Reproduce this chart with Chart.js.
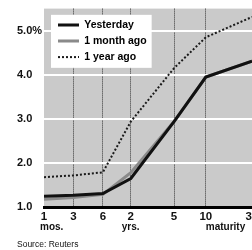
<!DOCTYPE html>
<html><head><meta charset="utf-8">
<script src="https://cdn.jsdelivr.net/npm/chart.js@4/dist/chart.umd.min.js"></script>
<style>html,body{margin:0;padding:0;background:#fff;}canvas{display:block;}</style>
</head><body>
<canvas id="c" width="252" height="250"></canvas>
<script>
// ---- data ----
const maturities = ['1', '3', '6', '2', '5', '10', '30'];
const maturityUnits = ['mos.', '', '', 'yrs.', '', 'maturity', ''];
const maturityAxisPos = [0, 1, 2, 2.95, 4.42, 5.5, 7.07];
const yesterday = [1.25, 1.27, 1.31, 1.65, 2.94, 3.95, 4.31];
const monthAgo  = [1.18, 1.22, 1.29, 1.78, 2.94, 3.95, 4.31];
const yearAgo   = [1.68, 1.72, 1.79, 2.94, 4.15, 4.85, 5.31];
const yTicks = [1, 2, 3, 4, 5];
const seriesNames = ['Yesterday', '1 month ago', '1 year ago'];

const FONT = "'Liberation Sans', Arial, sans-serif";
const toPts = arr => arr.map((v, i) => ({x: maturityAxisPos[i], y: v}));

const plotBg = {
  id: 'plotBg',
  beforeDraw(chart) {
    const {ctx, chartArea: a} = chart;
    ctx.save();
    ctx.fillStyle = '#fff';
    ctx.fillRect(0, 0, chart.width, chart.height);
    ctx.fillStyle = '#cacaca';
    ctx.fillRect(a.left, a.top, a.right - a.left, a.bottom - a.top);
    ctx.restore();
  }
};

const legendPanel = {
  id: 'legendPanel',
  afterLayout(chart) {
    const lg = chart.legend;
    if (!lg) return;
    const a = chart.chartArea;
    lg.left = a.left + 8.5;
    lg.top = a.top + 5.75;
    lg.bottom = a.bottom;
  },
  afterDatasetsDraw(chart) {
    const lg = chart.legend;
    const hb = lg.legendHitBoxes;
    let l = Infinity, t = Infinity, r = -Infinity, b = -Infinity;
    hb.forEach(h => {
      l = Math.min(l, h.left); t = Math.min(t, h.top);
      r = Math.max(r, h.left + h.width); b = Math.max(b, h.top + h.height);
    });
    const ctx = chart.ctx;
    ctx.save();
    ctx.fillStyle = '#fff';
    ctx.fillRect(l - 7, t - 5, r - l + 12, b - t + 10.5);
    ctx.restore();
    lg.draw();
  }
};

const unitLabels = {
  id: 'unitLabels',
  afterDraw(chart) {
    const xs = chart.scales.x;
    const ctx = chart.ctx;
    ctx.save();
    ctx.font = 'bold 10px ' + FONT;
    ctx.fillStyle = '#111';
    ctx.textAlign = 'left';
    ctx.textBaseline = 'middle';
    const shift = {'mos.': -4, 'yrs.': -9, 'maturity': 0};
    maturityUnits.forEach((u, i) => {
      if (!u) return;
      ctx.fillText(u, xs.getPixelForValue(maturityAxisPos[i]) + shift[u], xs.top + 20);
    });
    ctx.restore();
  }
};

new Chart(document.getElementById('c'), {
  type: 'line',
  data: {
    datasets: [
      {label: seriesNames[0], data: toPts(yesterday), borderColor: '#111', borderWidth: 3, pointRadius: 0, tension: 0},
      {label: seriesNames[1], data: toPts(monthAgo), borderColor: '#8a8a8a', borderWidth: 3, pointRadius: 0, tension: 0},
      {label: seriesNames[2], data: toPts(yearAgo), borderColor: '#1a1a1a', borderWidth: 2, borderDash: [2, 2], pointRadius: 0, tension: 0}
    ]
  },
  options: {
    responsive: false,
    animation: false,
    devicePixelRatio: 1,
    layout: {padding: {left: 17, top: 8, right: 0, bottom: 0}},
    scales: {
      x: {
        type: 'linear', min: 0, max: maturityAxisPos[maturityAxisPos.length - 1],
        afterBuildTicks(s) { s.ticks = maturityAxisPos.map(v => ({value: v})); },
        afterFit(s) { s.paddingLeft = 0; s.paddingRight = 0; s.height = 32; },
        ticks: {
          autoSkip: false, maxRotation: 0, padding: 3, color: '#111',
          font: {family: FONT, size: 11.5, weight: 'bold'},
          callback: (v, i) => maturities[i]
        },
        grid: {
          drawTicks: false, lineWidth: 1,
          color: c => (c.index === 0 || c.index === maturities.length - 1) ? 'rgba(0,0,0,0)' : '#333'
        },
        border: {display: true, color: '#000', width: 3, dash: [1, 1]}
      },
      y: {
        type: 'linear', min: 1, max: 5.5,
        afterBuildTicks(s) { s.ticks = yTicks.map(v => ({value: v})); },
        afterFit(s) { s.width = 27; },
        ticks: {
          crossAlign: 'far', color: '#111', padding: 2,
          font: {family: FONT, size: 11, weight: 'bold'},
          callback: v => v === 5 ? '5.0%' : v.toFixed(1)
        },
        grid: {drawTicks: false, color: '#fff', lineWidth: 2},
        border: {display: false}
      }
    },
    plugins: {
      legend: {
        position: 'chartArea', align: 'start',
        labels: {
          font: {family: FONT, size: 10.5, weight: 'bold'}, color: '#000',
          padding: 5.5, usePointStyle: true, pointStyleWidth: 21, boxHeight: 12,
          generateLabels(chart) {
            return chart.data.datasets.map((ds, i) => ({
              text: ds.label, strokeStyle: ds.borderColor, fillStyle: ds.borderColor,
              lineWidth: ds.borderWidth, lineDash: ds.borderDash || [], pointStyle: 'line',
              datasetIndex: i, hidden: false, fontColor: '#000'
            }));
          }
        }
      },
      title: {
        display: true, text: 'Source: Reuters', position: 'bottom', align: 'start',
        color: '#111', font: {family: FONT, size: 8.5, weight: 'normal', lineHeight: 1.2},
        padding: {top: 0, bottom: 0.6}
      },
      tooltip: {enabled: false}
    }
  },
  plugins: [plotBg, legendPanel, unitLabels]
});
</script>
</body></html>
